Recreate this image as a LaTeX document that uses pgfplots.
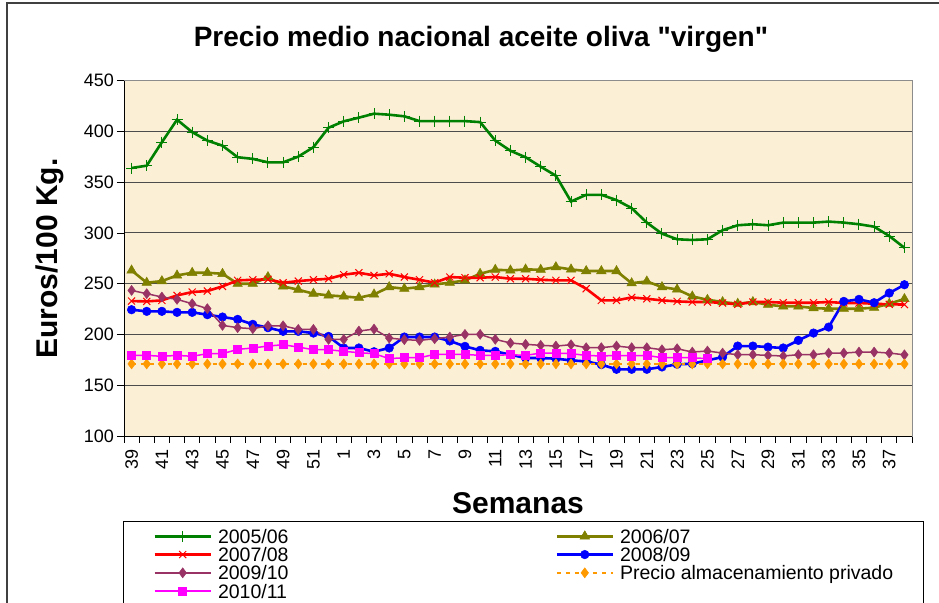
\documentclass[border=0pt]{standalone}
\usepackage{fontspec}
\setmainfont{Liberation Sans}[Ligatures=TeXOff]
\usepackage{pgfplots}
\pgfplotsset{compat=1.18}
\usepackage{pgfplotstable}
\definecolor{cgreen}{RGB}{0,128,0}
\definecolor{colive}{RGB}{128,128,0}
\definecolor{cred}{RGB}{255,0,0}
\definecolor{cblue}{RGB}{0,0,255}
\definecolor{cpurple}{RGB}{153,51,102}
\definecolor{cmag}{RGB}{255,0,255}
\definecolor{corange}{RGB}{255,153,0}
\definecolor{cbg}{RGB}{251,239,214}
\pgfplotstableread{
i a b c d e f g
0 364.0 263.1 232.9 224.4 243.4 179.4 171
1 366.3 251.0 232.6 222.8 240.2 179.4 171
2 389.4 252.6 233.6 222.8 236.9 178.5 171
3 411.6 258.2 238.5 221.8 234.6 179.4 171
4 399.3 260.8 241.8 221.8 230.3 178.5 171
5 391.0 260.8 242.8 219.5 225.4 181.1 171
6 386.0 259.8 247.4 217.2 209.0 181.1 171
7 374.6 250.0 253.3 214.9 206.7 185.3 171
8 373.0 250.0 253.9 210.0 205.7 186.7 171
9 369.6 256.6 254.3 206.7 208.6 188.6 171
10 369.6 247.4 251.0 203.1 208.6 189.9 171
11 375.2 244.1 252.6 203.1 205.0 187.6 171
12 384.5 240.2 253.9 201.4 205.0 185.0 171
13 403.7 238.5 254.9 198.1 195.2 185.0 171
14 410.0 237.5 258.9 186.7 195.2 183.4 171
15 413.6 236.2 260.8 186.7 203.4 182.1 171
16 417.5 239.5 258.2 183.0 205.3 181.1 171
17 416.5 246.7 259.8 186.7 196.5 176.2 171
18 414.9 245.1 256.6 197.5 194.9 177.1 171
19 410.2 246.7 253.9 197.5 194.2 177.1 171
20 410.2 249.3 251.0 197.5 195.8 180.4 171
21 410.2 251.0 256.6 193.6 197.5 180.4 171
22 410.2 253.3 255.9 188.3 200.1 180.4 171
23 409.2 259.8 255.9 184.4 200.1 179.4 171
24 391.0 263.8 256.6 183.4 195.2 179.4 171
25 381.0 263.1 254.9 180.1 191.6 180.1 171
26 374.6 264.1 254.9 176.8 190.3 179.4 171
27 365.3 263.8 253.9 176.8 189.3 181.7 171
28 356.4 266.4 253.3 176.2 188.6 181.7 171
29 331.0 264.1 253.3 174.5 189.9 181.1 171
30 337.6 262.5 245.1 173.5 187.0 179.4 171
31 337.6 262.5 233.6 170.3 187.0 178.8 171
32 332.4 262.5 233.6 165.7 188.6 179.4 171
33 324.5 250.5 236.5 165.7 187.0 179.0 171
34 310.2 252.3 235.2 165.7 187.0 179.4 171
35 299.3 246.7 233.6 168.0 185.0 177.1 171
36 293.8 244.4 232.6 170.6 186.0 177.1 171
37 293.1 237.5 232.0 171.2 182.7 177.1 171
38 293.8 234.2 232.0 174.5 183.7 176.2 171
39 302.7 232.0 231.0 177.8 181.7 nan 171
40 307.6 230.3 229.7 188.6 180.1 nan 171
41 308.6 232.0 232.0 188.6 180.1 nan 171
42 307.6 229.3 232.0 187.6 179.4 nan 171
43 310.2 227.7 231.3 186.7 178.8 nan 171
44 310.2 227.7 231.3 194.2 180.1 nan 171
45 310.2 226.0 231.3 201.4 180.1 nan 171
46 311.2 225.4 232.0 207.3 181.7 nan 171
47 310.2 225.4 231.0 232.6 181.7 nan 171
48 308.6 225.4 231.0 234.6 182.7 nan 171
49 306.2 226.4 230.3 231.3 182.7 nan 171
50 297.0 230.3 229.7 240.8 181.7 nan 171
51 285.4 235.0 229.5 249.0 180.0 nan 171
}\datatab
\begin{document}
\begin{tikzpicture}[x=1pt,y=1pt]
\path[use as bounding box] (0,0) rectangle (939,602);
\draw[black!75, line width=1.2pt] (7,-20) -- (7,599) -- (960,599);
\begin{axis}[
  at={(124pt,166pt)}, anchor=south west,
  scale only axis, width=788pt, height=355.3pt,
  xmin=-0.5, xmax=51.5, ymin=100, ymax=450,
  ytick={100,150,...,450},
  xtick={0,2,...,50},
  xticklabels={39,41,43,45,47,49,51,1,3,5,7,9,11,13,15,17,19,21,23,25,27,29,31,33,35,37},
  minor xtick={-0.5,0.5,...,51.5},
  tick pos=left,
  tick align=outside,
  major tick length=7pt, minor tick length=6.5pt,
  major x tick style={draw=none},
  tick style={black, line width=0.8pt},
  ymajorgrids, grid style={black!70, line width=1pt},
  axis line style={draw=black!45, line width=1pt},
  axis background/.style={fill=cbg},
  /pgf/number format/assume math mode=true,
  yticklabel style={font=\fontsize{18}{18}\selectfont, inner sep=0pt, xshift=-3pt},
  xticklabel style={font=\fontsize{18}{18}\selectfont, rotate=90, anchor=east, inner sep=0pt, xshift=-6pt},
  title={Precio medio nacional aceite oliva "virgen"},
  title style={font=\bfseries\fontsize{28}{28}\selectfont, at={(axis description cs:0.4530,1.078)}, anchor=base},
  xlabel={Semanas},
  xlabel style={font=\bfseries\fontsize{30}{30}\selectfont, at={(axis description cs:0.5,-0.2176)}, anchor=base},
  ylabel={Euros/100 Kg.},
  ylabel style={font=\bfseries\fontsize{30}{30}\selectfont, at={(axis description cs:-0.085,0.5)}, anchor=base},
  legend columns=2,
  legend cell align=left,
  legend image code/.code={\draw[mark repeat=2,mark phase=2,#1] plot coordinates {(0pt,2pt)(28pt,2pt)(56pt,2pt)};},
  legend style={at={(axis description cs:0,0)}, anchor=north west, xshift=-1pt, yshift=-84.7pt,
    draw=black, line width=0.8pt, inner xsep=30pt, inner ysep=8pt, row sep=0pt,
    font=\fontsize{19.5}{19.5}\selectfont,
    nodes={inner sep=0pt, text height=14pt, text depth=4.3pt},
    /tikz/every odd column/.append style={column sep=6pt},
    /tikz/every even column/.append style={column sep=267pt}},
]
\draw[black, line width=1pt] (rel axis cs:0,0) -- (rel axis cs:0,1);
\draw[black, line width=1pt] (rel axis cs:0,0) -- (rel axis cs:1,0);
\addplot[cgreen, line width=2.6pt, mark=+, mark size=5.5pt, mark options={line width=1pt}] table[x=i,y=a]{\datatab};
\addlegendentry{2005/06}
\addplot[colive, line width=2.6pt, mark=triangle*, mark size=5.5pt, mark options={line width=0.5pt}] table[x=i,y=b]{\datatab};
\addlegendentry{2006/07}
\addplot[cred, line width=2.6pt, mark=x, mark size=5pt, mark options={line width=1pt}] table[x=i,y=c]{\datatab};
\addlegendentry{2007/08}
\addplot[cblue, line width=2.6pt, mark=*, mark size=4.3pt, mark options={line width=0.5pt}] table[x=i,y=d]{\datatab};
\addlegendentry{2008/09}
\addplot[cpurple, line width=1.5pt, mark=diamond*, mark size=5pt, mark options={line width=0.5pt}] table[x=i,y=e]{\datatab};
\addlegendentry{2009/10}
\addplot[corange, line width=1.5pt, dash pattern=on 4pt off 5pt, mark=diamond*, mark size=5pt, mark options={solid, line width=0.5pt}] table[x=i,y=g]{\datatab};
\addlegendentry{Precio almacenamiento privado}
\addplot[cmag, line width=1.5pt, mark=square*, mark size=4pt, mark options={line width=0.5pt}] table[x=i,y=f]{\datatab};
\addlegendentry{2010/11}
\end{axis}
\end{tikzpicture}
\end{document}
